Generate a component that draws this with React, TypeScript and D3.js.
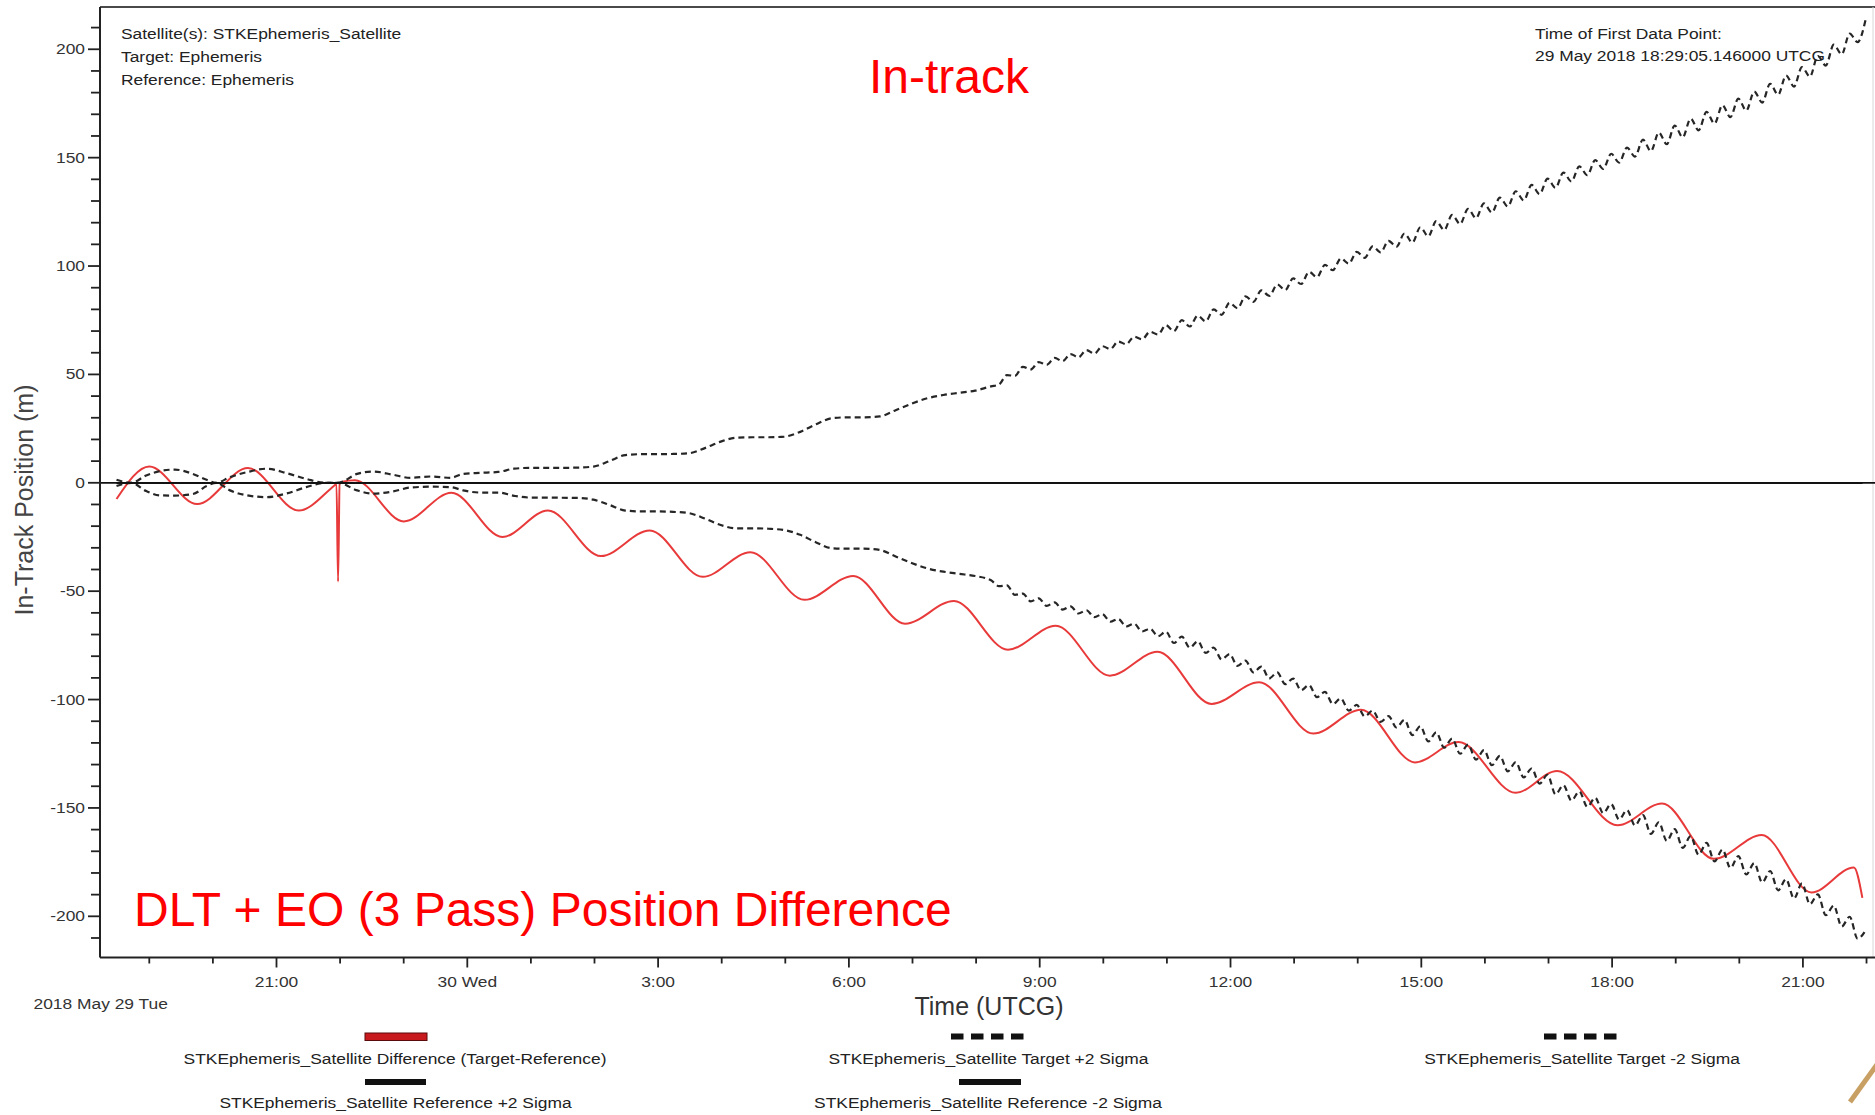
import React from "react";
import * as d3 from "d3";

const WIDTH = 1875;
const HEIGHT = 1115;
const PLOT_LEFT = 100;
const PLOT_RIGHT = 1875;
const PLOT_TOP = 7;
const PLOT_BOTTOM = 957.5;

// Time of first data point: 29 May 2018 18:29:05.146 UTCG
const EPOCH = Date.UTC(2018, 4, 29, 18, 29, 5, 146);
const X_START = new Date(Date.UTC(2018, 4, 29, 18, 13, 30));
const X_END = new Date(Date.UTC(2018, 4, 30, 22, 8, 0));

// Difference (Target-Reference): minutes after first point, metres
const diffMinutes = [
  0, 31, 76, 124, 172, 205, 207.5, 209, 210.5, 213, 225, 271, 316, 364, 407, 457, 503, 553, 598, 649,
  695, 744, 790, 841, 886, 937, 982, 1033, 1078, 1129, 1174, 1225, 1266, 1320, 1359, 1416, 1458, 1507,
  1552, 1599, 1639, 1647,
];
const diffValues = [
  -7.5, 7.5, -9.8, 6.8, -12.8, -1.5, -0.5, -45.5, -0.3, 0.5, 1.2, -17.8, -4.6, -25, -12.8, -33.8, -22,
  -43.4, -32, -54, -43, -65, -54.5, -77, -66, -89, -78, -102, -92, -115.7, -104.7, -129, -119.6, -143,
  -133, -158, -148, -173.5, -162.5, -189, -177.5, -191.5,
];

// Target ±2 sigma sample times (minutes after first point)
const sigmaEarlyMinutes = [
  0, 14, 28, 41, 55, 72, 85, 94, 107, 123, 142, 160, 179, 197, 209, 227, 242, 261, 277, 296, 315, 327, 343,
];
const sigmaMidMinutes = d3.range(360, 826, 15);
const sigmaLateMinutes = d3.range(832.5, 1651, 7.5);

const targetPlusEarly = [
  1.4, 0, 3.4, 5.4, 6.1, 4.1, 1.4, 0, 2.6, 4.9, 6.5, 4.5, 1.8, 0, 0, 4.1, 5.2, 3.7, 2.3, 2.9, 2.3, 4.1, 4.6,
];
const targetPlusMid = [
  5.0, 6.5, 6.9, 6.9, 6.9, 7.0, 7.5, 10.0, 12.8, 13.2, 13.2, 13.3, 13.6, 16.0, 19.0, 20.8, 21.0, 21.0,
  21.3, 23.5, 27.0, 29.8, 30.2, 30.2, 30.6, 33.5, 36.5, 39.0, 40.5, 41.5, 42.5, 44.5,
];
const targetPlusLate = [
  45.3, 49.7, 49.3, 53.5, 52.3, 55.7, 54.4, 57.6, 56.1, 59.4,
  57.9, 61.2, 59.6, 63.0, 61.7, 65.2, 63.9, 67.4, 66.2, 69.7,
  68.4, 72.7, 69.9, 75.0, 72.1, 77.1, 74.5, 80.0, 77.5, 83.0,
  80.5, 86.0, 83.5, 88.8, 86.2, 91.5, 88.9, 94.3, 91.7, 97.3,
  94.9, 100.5, 98.1, 103.5, 101.1, 106.5, 103.8, 109.1, 106.3, 111.6,
  108.9, 115.0, 110.8, 117.9, 113.7, 120.7, 116.6, 123.6, 119.4, 126.4,
  122.1, 128.9, 124.7, 131.6, 127.5, 134.5, 130.3, 137.4, 133.2, 140.3,
  136.1, 143.1, 139.0, 146.0, 141.9, 148.9, 144.8, 151.8, 147.7, 154.6,
  150.5, 158.3, 153.0, 161.6, 156.2, 164.8, 159.4, 168.0, 162.6, 171.1,
  165.7, 174.2, 168.7, 177.2, 171.7, 180.5, 175.4, 184.1, 179.0, 187.9,
  182.8, 191.8, 187.4, 196.9, 192.5, 202.1, 197.7, 207.2, 203.3, 213.5,
];

const targetMinusEarly = [
  -1.5, 0, -3.8, -5.8, -5.9, -5.2, -1.5, 0, -3.5, -5.8, -6.6, -5.0, -2.0, 0, 0, -3.5, -5.0, -4.0, -2.2,
  -1.8, -2.0, -3.5, -4.5,
];
const targetMinusMid = [
  -4.5, -6.0, -6.8, -6.8, -6.9, -7.0, -7.8, -10.2, -12.8, -13.2, -13.2, -13.4, -14.0, -16.5, -19.5, -21.0,
  -21.0, -21.2, -21.8, -24.0, -27.5, -30.2, -30.4, -30.4, -31.0, -34.0, -37.0, -39.5, -41.0, -42.0, -43.0,
  -45.0,
];
const targetMinusLate = [
  -47.7, -47.3, -51.7, -51.1, -54.7, -53.3, -56.8, -55.2, -58.5, -57.0,
  -60.3, -58.8, -62.0, -60.6, -64.1, -62.8, -66.3, -65.0, -68.6, -67.3,
  -70.8, -68.7, -73.9, -71.0, -76.1, -73.1, -78.5, -76.0, -81.5, -79.0,
  -84.5, -82.0, -87.5, -84.8, -90.2, -87.5, -92.9, -90.3, -95.7, -93.3,
  -98.9, -96.5, -102.1, -99.5, -105.1, -102.5, -107.8, -105.1, -110.3, -107.6,
  -112.9, -109.4, -116.4, -112.3, -119.3, -115.1, -122.2, -118.0, -125.0, -120.8,
  -127.7, -123.3, -130.3, -126.0, -133.1, -128.9, -135.9, -131.8, -138.8, -134.7,
  -143.7, -139.5, -146.6, -142.4, -149.5, -145.3, -152.4, -148.2, -155.3, -151.0,
  -158.1, -153.3, -162.0, -156.6, -165.2, -159.8, -168.4, -163.0, -171.6, -166.1,
  -174.7, -169.2, -177.7, -172.2, -180.7, -175.5, -184.4, -179.1, -188.0, -182.9,
  -191.8, -184.8, -194.4, -189.9, -199.5, -195.1, -204.7, -200.2, -210.3, -206.5,
];

// Reference ±2 sigma (no covariance on the reference ephemeris)
const referenceMinutes = [0, 1647];
const referencePlus = [0, 0];
const referenceMinus = [0, 0];

const yTickLabels = [-200, -150, -100, -50, 0, 50, 100, 150, 200];
const yMinorTicks = d3.range(-210, 211, 10);

const headerLeft = ["Satellite(s): STKEphemeris_Satellite", "Target: Ephemeris", "Reference: Ephemeris"];
const headerRight = ["Time of First Data Point:", "29 May 2018 18:29:05.146000 UTCG"];

const FONT = "'Liberation Sans', Arial, Helvetica, sans-serif";
const RED = "#e83a3a";
const DASH_COLOR = "#262626";

const at = (m: number) => new Date(EPOCH + m * 60000);

function SmallText(props: {
  x: number;
  y: number;
  anchor?: "start" | "middle" | "end";
  fill?: string;
  children: React.ReactNode;
}) {
  const { x, y, anchor = "start", fill = "#222", children } = props;
  return (
    <text
      transform={`translate(${x},${y}) scale(1.2,1)`}
      textAnchor={anchor}
      fontSize={14.5}
      fill={fill}
      fontFamily={FONT}
    >
      {children}
    </text>
  );
}

export default function App() {
  const x = d3.scaleUtc().domain([X_START, X_END]).range([PLOT_LEFT, PLOT_RIGHT]);
  const y = d3.scaleLinear().domain([-219, 219.5]).range([PLOT_BOTTOM, PLOT_TOP]);

  const line = d3
    .line<[number, number]>()
    .x((d) => x(at(d[0])))
    .y((d) => y(d[1]))
    .curve(d3.curveMonotoneX);

  const sigmaMinutes = [...sigmaEarlyMinutes, ...sigmaMidMinutes, ...sigmaLateMinutes];
  const targetPlus = [...targetPlusEarly, ...targetPlusMid, ...targetPlusLate];
  const targetMinus = [...targetMinusEarly, ...targetMinusMid, ...targetMinusLate];

  const diffPath = line(d3.zip(diffMinutes, diffValues) as [number, number][]) || "";
  const plusPath = line(d3.zip(sigmaMinutes, targetPlus) as [number, number][]) || "";
  const minusPath = line(d3.zip(sigmaMinutes, targetMinus) as [number, number][]) || "";
  const refPlusPath = line(d3.zip(referenceMinutes, referencePlus) as [number, number][]) || "";
  const refMinusPath = line(d3.zip(referenceMinutes, referenceMinus) as [number, number][]) || "";

  const hourTicks = d3.utcHour.range(X_START, X_END);
  const fmtDay = d3.utcFormat("%-d %a");
  const fmtHour = d3.utcFormat("%-H:%M");
  const tickLabel = (d: Date) => (d.getUTCHours() === 0 ? fmtDay(d) : fmtHour(d));

  const legendDashed = { stroke: "#111", strokeWidth: 6, strokeDasharray: "12.5 7.5" };

  return (
    <svg
      width={WIDTH}
      height={HEIGHT}
      viewBox={`0 0 ${WIDTH} ${HEIGHT}`}
      style={{ position: "absolute", left: 0, top: 0, background: "#fff" }}
      fontFamily={FONT}
    >
      <defs>
        <clipPath id="plot-clip">
          <rect x={PLOT_LEFT} y={PLOT_TOP} width={PLOT_RIGHT - PLOT_LEFT} height={PLOT_BOTTOM - PLOT_TOP} />
        </clipPath>
      </defs>
      <rect x={0} y={0} width={WIDTH} height={HEIGHT} fill="#fff" />

      {/* frame */}
      <line x1={PLOT_LEFT} x2={PLOT_RIGHT} y1={PLOT_TOP} y2={PLOT_TOP} stroke="#4a4a4a" strokeWidth={2} />
      <line x1={PLOT_RIGHT - 2} x2={PLOT_RIGHT - 2} y1={PLOT_TOP} y2={PLOT_BOTTOM} stroke="#d8d8d8" strokeWidth={1} />

      {/* zero line */}
      <line x1={PLOT_LEFT} x2={PLOT_RIGHT} y1={y(0)} y2={y(0)} stroke="#111" strokeWidth={1.8} />

      <g clipPath="url(#plot-clip)" fill="none">
        <path d={diffPath} stroke={RED} strokeWidth={2} strokeLinejoin="round" />
        <path d={plusPath} stroke={DASH_COLOR} strokeWidth={2.2} strokeDasharray="6 4" />
        <path d={minusPath} stroke={DASH_COLOR} strokeWidth={2.2} strokeDasharray="6 4" />
        <path d={refPlusPath} stroke="#111" strokeWidth={1.8} />
        <path d={refMinusPath} stroke="#111" strokeWidth={1.8} />
      </g>

      {/* y axis */}
      <line x1={PLOT_LEFT} x2={PLOT_LEFT} y1={PLOT_TOP} y2={PLOT_BOTTOM} stroke="#222" strokeWidth={2} />
      {yMinorTicks.map((v) => (
        <line
          key={`ym${v}`}
          x1={PLOT_LEFT - (v % 50 === 0 ? 12 : 9)}
          x2={PLOT_LEFT}
          y1={y(v)}
          y2={y(v)}
          stroke="#222"
          strokeWidth={1.8}
        />
      ))}
      {yTickLabels.map((v) => (
        <SmallText key={`yl${v}`} x={85} y={y(v) + 5} anchor="end" fill="#333">
          {v}
        </SmallText>
      ))}
      <text
        transform={`translate(33,500) rotate(-90)`}
        textAnchor="middle"
        fontSize={25}
        fill="#444"
      >
        In-Track Position (m)
      </text>

      {/* x axis */}
      <line x1={PLOT_LEFT} x2={PLOT_RIGHT} y1={PLOT_BOTTOM} y2={PLOT_BOTTOM} stroke="#222" strokeWidth={2} />
      {hourTicks.map((d) => {
        const major = d.getUTCHours() % 3 === 0;
        return (
          <g key={`xt${d.getTime()}`}>
            <line
              x1={x(d)}
              x2={x(d)}
              y1={PLOT_BOTTOM}
              y2={PLOT_BOTTOM + (major ? 10 : 6)}
              stroke="#222"
              strokeWidth={1.8}
            />
            {major && (
              <SmallText x={x(d)} y={987} anchor="middle" fill="#333">
                {tickLabel(d)}
              </SmallText>
            )}
          </g>
        );
      })}
      <SmallText x={33.5} y={1009} fill="#333">
        2018 May 29 Tue
      </SmallText>
      <text x={989} y={1015} textAnchor="middle" fontSize={25} fill="#333">
        Time (UTCG)
      </text>

      {/* header text */}
      {headerLeft.map((t, i) => (
        <SmallText key={`hl${i}`} x={121} y={39 + i * 23}>
          {t}
        </SmallText>
      ))}
      {headerRight.map((t, i) => (
        <SmallText key={`hr${i}`} x={1535} y={38.5 + i * 22.5}>
          {t}
        </SmallText>
      ))}

      {/* titles */}
      <text x={869} y={93} fontSize={48} fill="#ff0000">
        In-track
      </text>
      <text x={134} y={926} fontSize={48} fill="#ff0000">
        DLT + EO (3 Pass) Position Difference
      </text>

      {/* legend */}
      <rect x={365} y={1033} width={62} height={7.5} fill="#c8191e" stroke="#5a0a0a" strokeWidth={1} />
      <SmallText x={395} y={1064} anchor="middle">
        STKEphemeris_Satellite Difference (Target-Reference)
      </SmallText>
      <line x1={951} x2={1026} y1={1036.5} y2={1036.5} {...legendDashed} />
      <SmallText x={988.5} y={1064} anchor="middle">
        STKEphemeris_Satellite Target +2 Sigma
      </SmallText>
      <line x1={1544} x2={1620} y1={1036.5} y2={1036.5} {...legendDashed} />
      <SmallText x={1582} y={1064} anchor="middle">
        STKEphemeris_Satellite Target -2 Sigma
      </SmallText>
      <rect x={365} y={1079} width={61} height={6} fill="#111" />
      <SmallText x={395.5} y={1108} anchor="middle">
        STKEphemeris_Satellite Reference +2 Sigma
      </SmallText>
      <rect x={959} y={1079} width={62} height={6} fill="#111" />
      <SmallText x={988} y={1108} anchor="middle">
        STKEphemeris_Satellite Reference -2 Sigma
      </SmallText>

      {/* corner accent */}
      <line x1={1850} y1={1102} x2={1878} y2={1063} stroke="#c9a063" strokeWidth={5} />
    </svg>
  );
}
